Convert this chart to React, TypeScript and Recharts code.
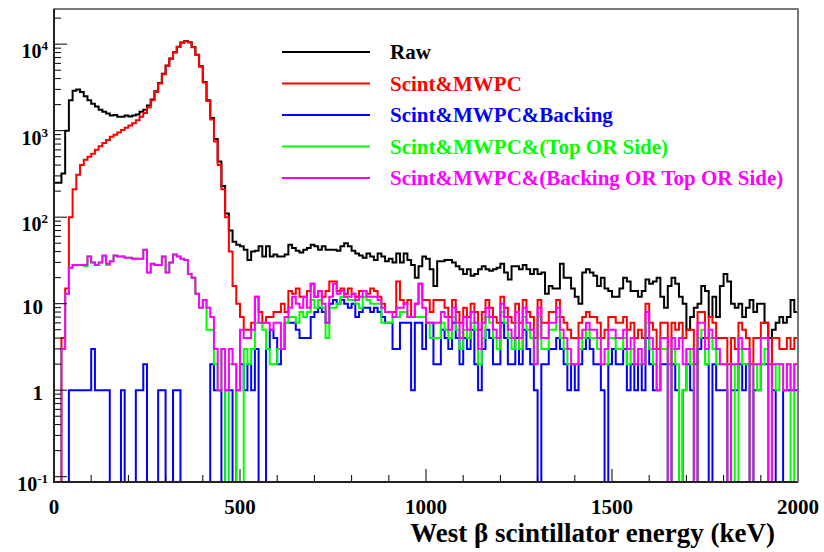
import React from 'react';
import { LineChart, Line, XAxis, YAxis } from 'recharts';

// 10 keV bins from 0 to 2000 keV (200 bins). Values are counts per bin.
const binStartsKeV: number[] = Array.from({ length: 201 }, (_, i) => i * 10);

const raw = [
  250, 250, 320, 1000, 2250, 2900, 3000, 2800, 2500, 2250,
  2050, 1900, 1750, 1650, 1580, 1500, 1520, 1450, 1450, 1500,
  1460, 1500, 1540, 1650, 1750, 1950, 2300, 2850, 3550, 4550,
  5650, 6850, 8050, 9350, 10450, 10850, 10550, 9250, 7550, 5550,
  3650, 2250, 1400, 800, 440, 230, 110, 70, 52, 48,
  46, 42, 32, 40, 41, 46, 35, 46, 35, 37,
  35, 35, 37, 48, 44, 41, 39, 42, 44, 48,
  46, 42, 46, 42, 42, 42, 41, 46, 50, 46,
  41, 38, 36, 34, 38, 35, 32, 38, 35, 31,
  33, 30, 38, 30, 38, 32, 28, 20, 27, 35,
  33, 25, 16, 31, 31, 32, 32, 30, 27, 25,
  22, 25, 21, 22, 25, 27, 25, 24, 25, 26,
  29, 23, 19, 27, 27, 25, 28, 25, 22, 25,
  22, 23, 13, 16, 15, 15, 29, 20, 20, 15,
  12, 10, 23, 25, 23, 21, 16, 20, 15, 14,
  12, 12, 15, 20, 18, 14, 14, 12, 14, 19,
  17, 18, 20, 12, 9, 16, 20, 17, 12, 10,
  5, 7, 9, 10, 16, 14, 7, 12, 7, 16,
  22, 18, 10, 9, 10, 7, 9, 11, 8, 10,
  10, 6, 4, 5, 6, 7, 6, 7, 11, 8,
];

const scintMwpc = [
  0, 0, 4, 15, 100, 210, 310, 400, 460, 500,
  540, 600, 660, 720, 780, 850, 900, 950, 1020, 1080,
  1150, 1220, 1320, 1450, 1600, 1850, 2250, 2800, 3500, 4500,
  5600, 6800, 8000, 9300, 10400, 10800, 10500, 9200, 7500, 5500,
  3600, 2200, 1350, 750, 400, 210, 100, 40, 16, 10,
  7, 5, 5, 6, 12, 8, 6, 7, 7, 8,
  8, 10, 8, 14, 13, 15, 12, 12, 14, 17,
  12, 14, 12, 14, 18, 18, 14, 15, 13, 15,
  13, 12, 14, 14, 13, 15, 14, 12, 10, 8,
  8, 8, 18, 11, 10, 11, 7, 10, 17, 11,
  11, 8, 11, 11, 11, 9, 7, 11, 8, 6,
  9, 7, 10, 8, 5, 8, 11, 9, 7, 6,
  12, 9, 7, 6, 10, 6, 11, 8, 7, 4,
  11, 6, 6, 8, 8, 11, 7, 6, 5, 4,
  4, 6, 7, 8, 7, 7, 6, 4, 5, 7,
  7, 6, 6, 7, 5, 6, 4, 5, 4, 10,
  6, 5, 3, 6, 6, 2, 6, 5, 6, 4,
  5, 5, 2, 8, 8, 4, 7, 6, 4, 4,
  4, 2, 4, 3, 6, 5, 4, 2, 4, 4,
  6, 6, 2, 4, 4, 3, 3, 4, 3, 4,
];

const scintMwpcBacking = [
  0, 0, 0, 0, 1, 1, 1, 1, 1, 1,
  3, 1, 1, 1, 1, 0, 0, 0, 1, 0,
  0, 0, 1, 1, 2, 0, 0, 0, 1, 1,
  0, 0, 1, 1, 0, 0, 0, 0, 0, 0,
  0, 0, 2, 1, 1, 0, 1, 1, 0, 1,
  2, 1, 2, 1, 3, 0, 0, 3, 5, 4,
  2, 3, 6, 6, 6, 5, 4, 4, 4, 7,
  8, 9, 8, 6, 10, 11, 10, 11, 10, 9,
  10, 7, 8, 9, 9, 8, 9, 8, 7, 6,
  6, 3, 3, 6, 6, 6, 1, 6, 6, 3,
  6, 6, 2, 2, 5, 4, 3, 6, 4, 2,
  4, 3, 5, 2, 1, 3, 5, 4, 2, 2,
  6, 4, 2, 2, 4, 2, 5, 3, 2, 1,
  0, 2, 2, 3, 3, 4, 3, 2, 1, 2,
  1, 2, 3, 4, 3, 2, 2, 1, 0, 2,
  3, 2, 2, 3, 1, 2, 1, 2, 1, 4,
  2, 1, 1, 2, 2, 0, 2, 1, 0, 1,
  2, 1, 0, 3, 4, 2, 0, 2, 1, 1,
  1, 0, 1, 1, 2, 1, 2, 0, 1, 1,
  2, 2, 0, 1, 0, 0, 1, 1, 1, 1,
];

const scintMwpcTopSide = [
  0, 0, 3, 13, 26, 28, 28, 28, 27, 35,
  30, 28, 30, 35, 28, 31, 36, 35, 35, 34,
  34, 33, 33, 33, 42, 23, 29, 28, 28, 35,
  23, 30, 37, 35, 33, 32, 22, 20, 13, 9,
  11, 5, 5, 2, 1, 3, 0, 2, 2, 0,
  0, 3, 2, 3, 6, 6, 5, 3, 2, 2,
  3, 3, 6, 7, 7, 6, 8, 7, 8, 11,
  9, 11, 9, 4, 9, 9, 10, 12, 12, 11,
  11, 10, 9, 12, 11, 10, 10, 10, 6, 6,
  6, 7, 7, 8, 8, 7, 7, 7, 7, 7,
  6, 4, 4, 4, 6, 5, 4, 7, 5, 3,
  5, 4, 6, 5, 2, 4, 7, 6, 4, 3,
  8, 6, 4, 3, 6, 3, 7, 5, 4, 2,
  7, 3, 3, 5, 5, 7, 4, 3, 2, 2,
  2, 3, 4, 5, 4, 4, 3, 2, 2, 4,
  4, 3, 3, 4, 2, 3, 2, 2, 2, 6,
  3, 2, 1, 3, 3, 0, 3, 2, 0, 1,
  3, 2, 0, 4, 5, 2, 4, 3, 2, 2,
  2, 0, 2, 0, 3, 2, 2, 0, 2, 1,
  2, 3, 0, 2, 1, 2, 1, 2, 0, 2,
];

const scintMwpcAny = [
  0, 0, 3, 13, 26, 28, 28, 28, 28, 35,
  30, 28, 30, 36, 29, 31, 36, 35, 35, 34,
  34, 33, 33, 33, 42, 23, 29, 28, 28, 35,
  23, 30, 37, 35, 33, 32, 22, 20, 13, 9,
  11, 9, 7, 3, 1, 3, 1, 3, 2, 1,
  5, 4, 4, 5, 12, 6, 6, 6, 5, 6,
  6, 3, 7, 9, 12, 10, 9, 12, 9, 17,
  12, 14, 10, 6, 12, 17, 13, 14, 12, 12,
  13, 11, 12, 14, 12, 12, 12, 11, 9, 8,
  8, 7, 9, 9, 10, 7, 7, 10, 17, 9,
  6, 6, 6, 6, 8, 7, 5, 9, 6, 4,
  7, 5, 8, 6, 3, 6, 9, 7, 5, 4,
  10, 7, 5, 4, 8, 4, 9, 6, 5, 2,
  9, 4, 4, 6, 6, 9, 5, 4, 3, 2,
  2, 4, 5, 6, 5, 5, 4, 2, 3, 5,
  5, 4, 4, 5, 3, 4, 2, 3, 2, 8,
  4, 3, 1, 4, 4, 0, 4, 3, 4, 2,
  3, 3, 0, 6, 6, 3, 5, 4, 3, 2,
  2, 0, 2, 2, 4, 3, 3, 0, 2, 2,
  4, 4, 0, 2, 2, 2, 1, 2, 1, 2,
];

const seriesNames = [
  'Raw',
  'Scint&MWPC',
  'Scint&MWPC&Backing',
  'Scint&MWPC&(Top OR Side)',
  'Scint&MWPC&(Backing OR Top OR Side)',
];
const seriesKeys = ['raw', 'sm', 'smb', 'smts', 'smany'];
const seriesColors = ['#000000', '#ff0000', '#0000ff', '#00ff00', '#ff00ff'];
const seriesValues = [raw, scintMwpc, scintMwpcBacking, scintMwpcTopSide, scintMwpcAny];

const xTickValues = [0, 100, 200, 300, 400, 500, 600, 700, 800, 900, 1000, 1100, 1200, 1300, 1400, 1500, 1600, 1700, 1800, 1900, 2000];
const xMajorLabels = [0, 500, 1000, 1500, 2000];
const yDecades = [0.1, 1, 10, 100, 1000, 10000];
const yDecadeExponents = [-1, 0, 1, 2, 3, 4];
const yMinorMultipliers = [2, 3, 4, 5, 6, 7, 8, 9];

const Y_MIN = 0.0868;
const Y_MAX = 25500;
const X_MAX = 2000;

const W = 824;
const H = 552;
const PLOT_LEFT = 54;
const PLOT_RIGHT = 798;
const PLOT_TOP = 9;
const PLOT_BOTTOM = 482;
const FONT = '"Liberation Serif", "Times New Roman", serif';

const yTickValues: number[] = [];
yDecades.forEach((d) => {
  yTickValues.push(d);
  yMinorMultipliers.forEach((m) => {
    const v = d * m;
    if (v < Y_MAX) yTickValues.push(v);
  });
});

// Zero-count bins drop to the bottom of the frame (as on a log-scaled histogram)
const floorValue = (v: number) => (v > 0 ? v : Y_MIN);

const data = binStartsKeV.map((e, i) => {
  const idx = Math.min(i, raw.length - 1);
  const row: Record<string, number> = { e };
  seriesKeys.forEach((k, s) => {
    row[k] = floorValue(seriesValues[s][idx]);
  });
  return row;
});

const XTick = (props: any) => {
  const { x, payload } = props;
  const v = payload.value as number;
  const major = xMajorLabels.includes(v);
  return (
    <g>
      <line x1={x} x2={x} y1={PLOT_BOTTOM} y2={PLOT_BOTTOM - (major ? 13 : 7)} stroke="#000" strokeWidth={1} />
      {major && (
        <text x={x} y={514} textAnchor="middle" fontFamily={FONT} fontWeight="bold" fontSize={21} fill="#000">
          {v}
        </text>
      )}
    </g>
  );
};

const YTick = (props: any) => {
  const { y, payload } = props;
  const v = payload.value as number;
  const di = yDecades.findIndex((d) => Math.abs(d - v) / d < 1e-6);
  const major = di >= 0;
  let label: React.ReactNode = null;
  if (major) {
    const ex = yDecadeExponents[di];
    if (ex === 0 || ex === 1) {
      label = (
        <text x={43} y={y + 10} textAnchor="end" fontFamily={FONT} fontWeight="bold" fontSize={21} fill="#000">
          {ex === 0 ? '1' : '10'}
        </text>
      );
    } else {
      label = (
        <text x={48} y={y + 14} textAnchor="end" fontFamily={FONT} fontWeight="bold" fontSize={20} fill="#000">
          <tspan>10</tspan>
          <tspan dy={-8} fontSize={13}>{String(ex)}</tspan>
        </text>
      );
    }
  }
  return (
    <g>
      <line x1={PLOT_LEFT} x2={PLOT_LEFT + (major ? 13 : 7)} y1={y} y2={y} stroke="#000" strokeWidth={1} />
      {label}
    </g>
  );
};

const legendX1 = 282;
const legendX2 = 370;
const legendTextX = 390;
const legendY0 = 52;
const legendStep = 31.5;

export default function App() {
  return (
    <div style={{ position: 'absolute', left: 0, top: 0, width: W, height: H, background: '#fff' }}>
      <LineChart
        width={W}
        height={H}
        data={data}
        margin={{ top: PLOT_TOP, right: W - PLOT_RIGHT, bottom: 0, left: 0 }}
      >
        <XAxis
          dataKey="e"
          type="number"
          domain={[0, X_MAX]}
          ticks={xTickValues}
          interval={0}
          tick={XTick}
          tickLine={false}
          axisLine={false}
          height={H - PLOT_BOTTOM}
          allowDataOverflow
        />
        <YAxis
          type="number"
          scale="log"
          domain={[Y_MIN, Y_MAX]}
          ticks={yTickValues}
          interval={0}
          tick={YTick}
          tickLine={false}
          axisLine={false}
          width={PLOT_LEFT}
          allowDataOverflow
        />
        {seriesKeys.map((k, s) => (
          <Line
            key={k}
            dataKey={k}
            type="stepAfter"
            stroke={seriesColors[s]}
            strokeWidth={2}
            dot={false}
            activeDot={false}
            isAnimationActive={false}
          />
        ))}
      </LineChart>
      <svg
        width={W}
        height={H}
        style={{ position: 'absolute', left: 0, top: 0, pointerEvents: 'none' }}
      >
        <rect
          x={PLOT_LEFT}
          y={PLOT_TOP}
          width={PLOT_RIGHT - PLOT_LEFT}
          height={PLOT_BOTTOM - PLOT_TOP}
          fill="none"
          stroke="#222"
          strokeWidth={1.2}
        />
        <line x1={PLOT_LEFT} x2={PLOT_LEFT} y1={PLOT_TOP} y2={PLOT_BOTTOM + 1} stroke="#222" strokeWidth={2} />
        <line x1={PLOT_LEFT} x2={PLOT_RIGHT} y1={PLOT_BOTTOM} y2={PLOT_BOTTOM} stroke="#222" strokeWidth={2} />
        <line x1={PLOT_RIGHT} x2={PLOT_RIGHT} y1={PLOT_TOP} y2={PLOT_BOTTOM} stroke="#777" strokeWidth={2} />
        {seriesNames.map((name, s) => (
          <g key={name}>
            <line
              x1={legendX1}
              x2={legendX2}
              y1={legendY0 + s * legendStep}
              y2={legendY0 + s * legendStep}
              stroke={seriesColors[s]}
              strokeWidth={2}
            />
            <text
              x={legendTextX}
              y={legendY0 + s * legendStep + 7}
              fontFamily={FONT}
              fontWeight="bold"
              fontSize={21}
              fill={seriesColors[s]}
            >
              {name}
            </text>
          </g>
        ))}
        <text x={775} y={542} textAnchor="end" fontFamily={FONT} fontWeight="bold" fontSize={27} fill="#000">
          West β scintillator energy (keV)
        </text>
      </svg>
    </div>
  );
}
